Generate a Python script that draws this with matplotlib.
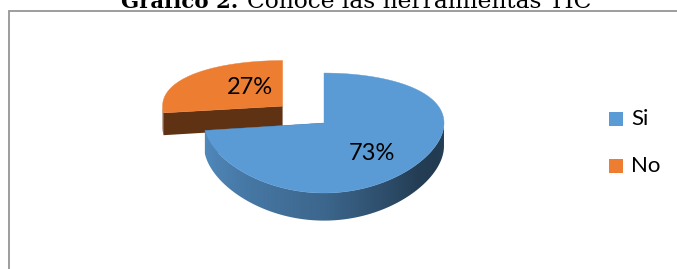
import numpy as np
import matplotlib
matplotlib.use("Agg")
import matplotlib.pyplot as plt
from matplotlib.patches import Polygon, Rectangle
import matplotlib.colors as mcolors

# ---------------- data ----------------
categories = ["Si", "No"]
values = [73, 27]
title_bold = "Gráfico 2."
title_rest = "Conoce las herramientas TIC"

# ---------------- style ----------------
top_colors = ["#5B9BD5", "#ED7D31"]
explode = [0.0, 0.46]
label_pos = [(372, 153), (250, 88)]          # label anchor (pixel layout)

# 3-D pie geometry (pixel layout)
CX, CY = 324.0, 123.0
R, RY = 120.0, 58.3
P = 0.167      # perspective strength (vertical)
D = 23.0       # thickness

W, H = 677, 269
fig = plt.figure(figsize=(W / 100, H / 100), dpi=100)
ax = fig.add_axes([0, 0, 1, 1])
ax.axis("off")


def proj(u, v, z):
    k = 1.0 / (1.0 + P * v)
    return CX + R * u, CY - RY * v * k + z * D * k


def shade(c, f):
    r, g, b = mcolors.to_rgb(c)
    return np.array([r * f, g * f, b * f])


def wall_factor(tdeg):
    tn = np.mod(tdeg, 360)
    return np.interp(tn, [180, 200, 270, 300, 320, 340, 360],
                     [0.90, 0.86, 0.66, 0.50, 0.40, 0.38, 0.45])


# wedges: Excel style, starting at 12 o'clock, clockwise
total = float(sum(values))
wedges = []
a = 90.0
for i, val in enumerate(values):
    span = 360.0 * val / total
    t2, t1 = a, a - span
    mid = np.radians((t1 + t2) / 2)
    ox, oy = explode[i] * np.cos(mid), explode[i] * np.sin(mid)
    wedges.append(dict(i=i, t1=t1, t2=t2, ox=ox, oy=oy))
    a = t1

# draw back (far) wedges first
for w in sorted(wedges, key=lambda w: -w["oy"]):
    i = w["i"]
    base = top_colors[i]
    ox, oy = w["ox"], w["oy"]
    ts = np.linspace(w["t1"], w["t2"], 720)
    tr = np.radians(ts)
    us, vs = ox + np.cos(tr), oy + np.sin(tr)

    # radial cut faces
    for t in (w["t1"], w["t2"]):
        rt = np.radians(t)
        ru, rv = ox + np.cos(rt), oy + np.sin(rt)
        poly = [proj(ox, oy, 0), proj(ru, rv, 0), proj(ru, rv, 1), proj(ox, oy, 1)]
        col = shade(base, 0.40)
        ax.add_patch(Polygon(poly, closed=True, fc=col, ec="none", zorder=2))

    # outer wall (front half only) as one shaded polygon
    front = np.sin(tr) < 0
    if front.sum() >= 2:
        tf = ts[front]
        uf, vf = us[front], vs[front]
        top_edge = [proj(u, v, 0) for u, v in zip(uf, vf)]
        bot_edge = [proj(u, v, 1) for u, v in zip(uf, vf)][::-1]
        wall = Polygon(top_edge + bot_edge, closed=True, fc="none", ec="none",
                       zorder=2)
        ax.add_patch(wall)
        xs_top = np.array([p[0] for p in top_edge])
        ys_all = np.array([p[1] for p in top_edge + bot_edge])
        x0, x1 = xs_top.min() - 2, xs_top.max() + 2
        y0, y1 = ys_all.min() - 2, ys_all.max() + 2
        ncol = 400
        gx = np.linspace(x0, x1, ncol)
        if i == 0:
            order = np.argsort(xs_top)
            tcol = np.interp(gx, xs_top[order], tf[order])
            fac = wall_factor(tcol)
        else:
            fac = np.full(ncol, 0.42)
        rgb = np.array([shade(base, f) for f in fac])[None, :, :]
        img = ax.imshow(np.repeat(rgb, 2, axis=0), extent=[x0, x1, y1, y0],
                        aspect="auto", interpolation="bilinear", zorder=2)
        img.set_clip_path(wall)

    # top face
    pts = [proj(ox, oy, 0)] + [proj(u, v, 0) for u, v in zip(us, vs)]
    ax.add_patch(Polygon(pts, closed=True, fc=base, ec=base, lw=0.3, zorder=3))

# data labels
for i, val in enumerate(values):
    x, y = label_pos[i]
    ax.text(x, y, f"{val}%", ha="center", va="center", fontsize=17,
            family="Lato", color="black", zorder=5)

# legend
leg_y = [119, 166]
for i, cat in enumerate(categories):
    ax.add_patch(Rectangle((609, leg_y[i] - 7), 14, 14, fc=top_colors[i],
                           ec="none", zorder=5))
    ax.text(631, leg_y[i], cat, ha="left", va="center", fontsize=16,
            family="Lato", color="black", zorder=5)

# chart frame (top and left visible)
ax.plot([8.5, 8.5, W + 2], [H + 2, 10.5, 10.5], color="#959595", lw=1.3,
        solid_joinstyle="miter", zorder=1, clip_on=False)

# title (cut at the top)
ax.text(238, 8, title_bold, ha="right", va="baseline", fontsize=15.3,
        family="DejaVu Serif", fontweight="bold", color="black")
ax.text(247, 8, title_rest, ha="left", va="baseline", fontsize=16.8,
        family="DejaVu Serif", color="black")

ax.set_xlim(0, W)
ax.set_ylim(H, 0)
fig.savefig("out.png", dpi=100)
